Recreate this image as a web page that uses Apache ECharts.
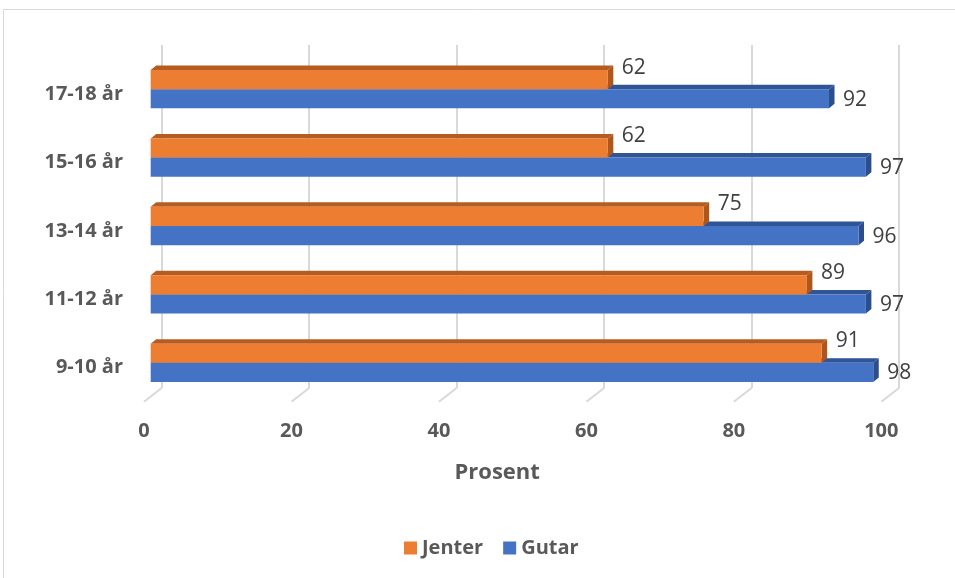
<!DOCTYPE html>
<html>
<head>
<meta charset="utf-8">
<script src="https://cdn.jsdelivr.net/npm/echarts@6.0.0/dist/echarts.min.js"></script>
<style>
  html, body { margin: 0; padding: 0; background: #fff; }
  #root { width: 955px; height: 578px; }
</style>
</head>
<body>
<div id="root"></div>
<script>
// data (bottom to top, like the category axis)
const categories = ['9-10 år', '11-12 år', '13-14 år', '15-16 år', '17-18 år']
const jenter = [91, 89, 75, 62, 62]
const gutar = [98, 97, 96, 97, 92]
const xTicks = [0, 20, 40, 60, 80, 100]

const FONT = '"Open Sans", sans-serif'
const GREY = '#595959'
// depth of a bar, and of the floor
const BAR_DX = 5.5
const BAR_DY = -4.5
const FLOOR_DX = 17.7
const FLOOR_DY = -13.7

const shade = (front, top, side) => ({ front, top, side })
const ORANGE = shade('#ED7D31', '#B65C20', '#AE561C')
const BLUE = shade('#4472C4', '#2F5597', '#2B4F8C')

// one 3D bar: front rect, top face, right face, value label
const makeBarRender = (colors, upper, labelDy) => (params, api) => {
  const cat = api.value(0)
  const val = api.value(1)
  const base = api.coord([0, cat])
  const end = api.coord([val, cat])
  const band = api.size([0, 1])[1]
  const h = band * 0.28
  const y0 = upper ? base[1] - h : base[1]
  const x0 = base[0]
  const x1 = end[0]
  return {
    type: 'group',
    children: [
      {
        type: 'polygon',
        shape: { points: [[x0, y0], [x0 + BAR_DX, y0 + BAR_DY], [x1 + BAR_DX, y0 + BAR_DY], [x1, y0]] },
        style: { fill: colors.top }
      },
      {
        type: 'polygon',
        shape: { points: [[x1, y0], [x1 + BAR_DX, y0 + BAR_DY], [x1 + BAR_DX, y0 + h + BAR_DY], [x1, y0 + h]] },
        style: { fill: colors.side }
      },
      {
        type: 'rect',
        shape: { x: x0, y: y0, width: x1 - x0, height: h },
        style: { fill: colors.front }
      },
      {
        type: 'text',
        x: x1 + 14,
        y: y0 + h / 2 + labelDy,
        style: {
          text: String(val),
          fill: '#404040',
          font: '21px ' + FONT,
          verticalAlign: 'middle',
          align: 'left'
        }
      }
    ]
  }
}

// slanted floor ticks from the front edge to the back wall
const floorRender = (params, api) => {
  const p = api.coord([api.value(0), 0])
  const bottom = params.coordSys.y + params.coordSys.height
  return {
    type: 'line',
    shape: { x1: p[0], y1: bottom, x2: p[0] + FLOOR_DX, y2: bottom + FLOOR_DY },
    style: { stroke: '#d9d9d9', lineWidth: 2 }
  }
}

const boldText = size => ({ color: GREY, fontWeight: 'bold', fontSize: size, fontFamily: FONT })

const option = {
  animation: false,
  backgroundColor: '#fff',
  graphic: [{
    type: 'rect',
    shape: { x: 3.5, y: 9.5, width: 1000, height: 1000 },
    style: { fill: 'none', stroke: '#d9d9d9', lineWidth: 1 },
    silent: true
  }],
  grid: [
    // back wall
    { left: 161.7, top: 45, width: 737.3, height: 343 },
    // bar front plane
    { left: 150.7, top: 55, width: 737.3, height: 342 },
    // front floor edge
    { left: 144, top: 60, width: 737.3, height: 341.7 }
  ],
  xAxis: [
    {
      gridIndex: 0, type: 'value', min: 0, max: 100, interval: 20,
      axisLabel: { show: false }, axisLine: { show: false }, axisTick: { show: false },
      splitLine: { show: true, lineStyle: { color: '#d9d9d9', width: 2 } }
    },
    {
      gridIndex: 1, type: 'value', min: 0, max: 100, interval: 20,
      axisLabel: { show: false }, axisLine: { show: false }, axisTick: { show: false },
      splitLine: { show: false }
    },
    {
      gridIndex: 2, type: 'value', min: 0, max: 100, interval: 20,
      axisLine: { show: false }, axisTick: { show: false }, splitLine: { show: false },
      axisLabel: Object.assign(boldText(20), { margin: 20 }),
      name: 'Prosent',
      nameLocation: 'middle',
      nameGap: 60,
      nameTextStyle: Object.assign(boldText(22), { padding: [0, 31, 0, 0] })
    }
  ],
  yAxis: [0, 1, 2].map(i => ({
    gridIndex: i,
    type: 'category',
    data: categories,
    axisLine: { show: false },
    axisTick: { show: false },
    splitLine: { show: false },
    axisLabel: i === 2
      ? Object.assign(boldText(20), { margin: 21 })
      : { show: false }
  })),
  legend: {
    left: 399,
    top: 533,
    itemWidth: 13,
    itemHeight: 13,
    itemGap: 20,
    icon: 'rect',
    textStyle: boldText(20),
    data: [
      { name: 'Jenter', itemStyle: { color: ORANGE.front } },
      { name: 'Gutar', itemStyle: { color: BLUE.front } }
    ]
  },
  series: [
    {
      type: 'custom',
      name: 'floor',
      xAxisIndex: 2, yAxisIndex: 2,
      renderItem: floorRender,
      data: xTicks.map(v => [v]),
      silent: true,
      z: 1
    },
    {
      type: 'custom',
      name: 'Gutar',
      xAxisIndex: 1, yAxisIndex: 1,
      itemStyle: { color: BLUE.front },
      renderItem: makeBarRender(BLUE, false, 1),
      data: categories.map((c, i) => [i, gutar[i]]),
      z: 2
    },
    {
      type: 'custom',
      name: 'Jenter',
      xAxisIndex: 1, yAxisIndex: 1,
      itemStyle: { color: ORANGE.front },
      renderItem: makeBarRender(ORANGE, true, -12),
      data: categories.map((c, i) => [i, jenter[i]]),
      z: 3
    }
  ]
}

const chart = echarts.init(document.getElementById('root'))
chart.setOption(option)
</script>
</body>
</html>
